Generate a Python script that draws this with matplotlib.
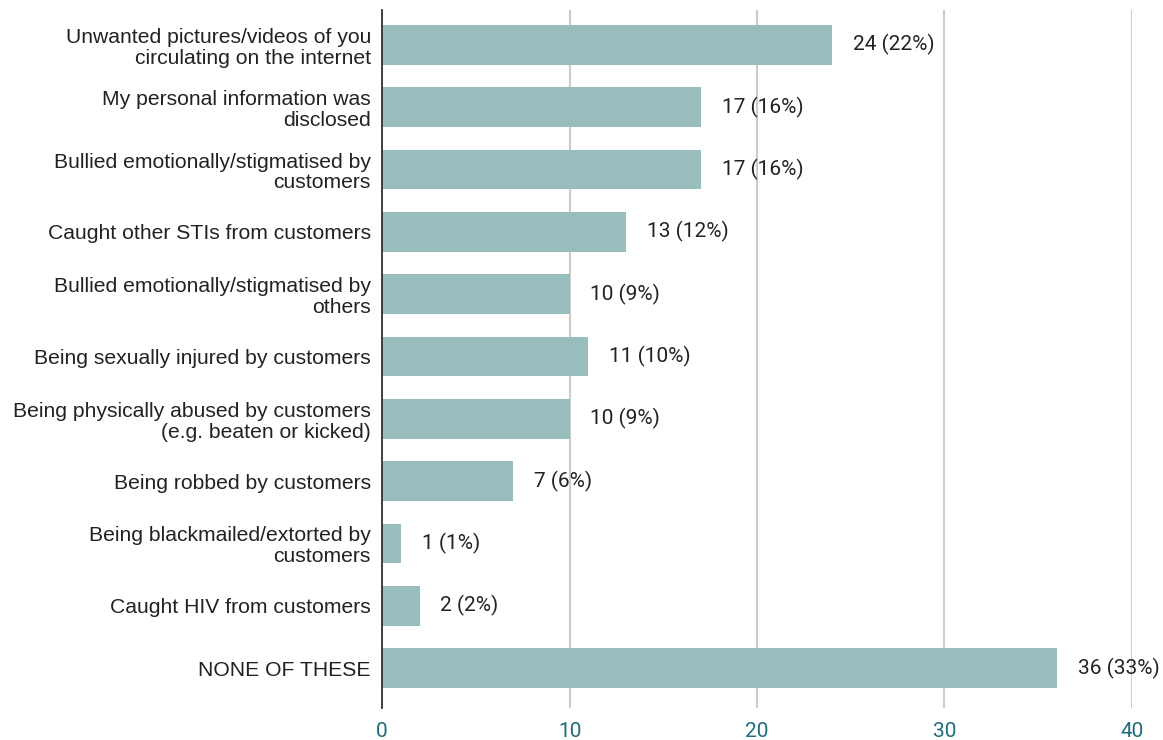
import matplotlib.pyplot as plt
import numpy as np

categories = [
    "Unwanted pictures/videos of you\ncirculating on the internet",
    "My personal information was\ndisclosed",
    "Bullied emotionally/stigmatised by\ncustomers",
    "Caught other STIs from customers",
    "Bullied emotionally/stigmatised by\nothers",
    "Being sexually injured by customers",
    "Being physically abused by customers\n(e.g. beaten or kicked)",
    "Being robbed by customers",
    "Being blackmailed/extorted by\ncustomers",
    "Caught HIV from customers",
    "NONE OF THESE",
]
counts = [24, 17, 17, 13, 10, 11, 10, 7, 1, 2, 36]
percents = [22, 16, 16, 12, 9, 10, 9, 6, 1, 2, 33]
xticks = [0, 10, 20, 30, 40]

bar_color = "#97bdbd"
tick_color = "#1f6b80"

fig = plt.figure(figsize=(11.63, 7.40), dpi=100)
ax = fig.add_axes([0.3285, 0.0432, 0.9733 - 0.3285, 0.9865 - 0.0432])

y = np.arange(len(categories))
ax.barh(y, counts, height=0.64, color=bar_color, zorder=3)

for yi, c, p in zip(y, counts, percents):
    ax.annotate(f"{c} ({p}%)", (c, yi), xytext=(15, 0), textcoords="offset points",
                ha="left", va="center", fontsize=15, family="Roboto", color="#222222")

ax.set_yticks(y)
ax.set_yticklabels(categories, fontsize=15.2, family="Liberation Sans", color="#222222",
                   linespacing=1.12)
ax.set_ylim(len(categories) - 1 + 0.64, -0.56)
ax.set_xlim(0, 40)
ax.set_xticks(xticks)
ax.set_xticklabels([str(t) for t in xticks], fontsize=15, family="Roboto", color=tick_color)
ax.tick_params(axis="x", length=0, pad=10)
ax.tick_params(axis="y", length=0, pad=8)

ax.grid(axis="x", color="#cccccc", linewidth=1.5, zorder=0)
for s in ["top", "right", "bottom"]:
    ax.spines[s].set_visible(False)
ax.spines["left"].set_color("#333333")
ax.spines["left"].set_linewidth(1.3)
ax.spines["left"].set_zorder(4)

fig.savefig("out.png", dpi=100)
